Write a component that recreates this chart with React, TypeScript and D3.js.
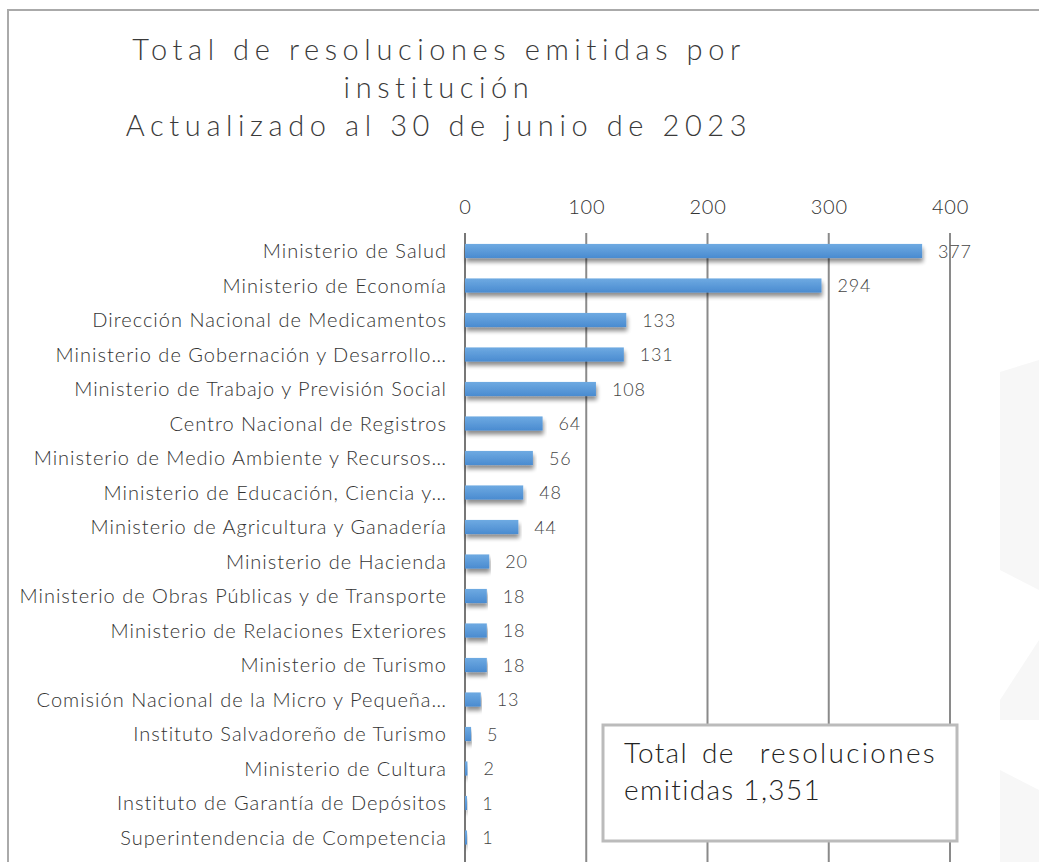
import React from 'react';
import * as d3 from 'd3';

// Institutions, top to bottom
const institutions = [
  'Ministerio de Salud',
  'Ministerio de Economía',
  'Dirección Nacional de Medicamentos',
  'Ministerio de Gobernación y Desarrollo…',
  'Ministerio de Trabajo y Previsión Social',
  'Centro Nacional de Registros',
  'Ministerio de Medio Ambiente y Recursos…',
  'Ministerio de Educación, Ciencia y…',
  'Ministerio de Agricultura y Ganadería',
  'Ministerio de Hacienda',
  'Ministerio de Obras Públicas y de Transporte',
  'Ministerio de Relaciones Exteriores',
  'Ministerio de Turismo',
  'Comisión Nacional de la Micro y Pequeña…',
  'Instituto Salvadoreño de Turismo',
  'Ministerio de Cultura',
  'Instituto de Garantía de Depósitos',
  'Superintendencia de Competencia',
];

const resoluciones = [377, 294, 133, 131, 108, 64, 56, 48, 44, 20, 18, 18, 18, 13, 5, 2, 1, 1];

const xTicks = [0, 100, 200, 300, 400];

const titleLines = [
  'Total de resoluciones emitidas por',
  'institución',
  'Actualizado al 30 de junio de 2023',
];

const totalWords = ['Total', 'de', 'resoluciones'];
const totalLine2 = 'emitidas 1,351';

const FONT = 'Lato, "Open Sans", sans-serif';

const App = () => {
  const width = 1039;
  const height = 862;

  const x = d3.scaleLinear().domain([0, 400]).range([465, 950]);
  const y = d3.scaleBand<string>()
    .domain(institutions)
    .range([233.75, 854.75])
    .paddingInner(0.59)
    .paddingOuter(0.295);

  const rows = institutions.map((name, i) => ({ name, value: resoluciones[i] }));

  return (
    <svg
      width={width}
      height={height}
      style={{ position: 'absolute', left: 0, top: 0, background: '#fff' }}
      fontFamily={FONT}
    >
      <defs>
        <linearGradient id="barFill" x1="0" y1="0" x2="0" y2="1">
          <stop offset="0%" stopColor="#6eaae2" />
          <stop offset="100%" stopColor="#4a8bd0" />
        </linearGradient>
        <filter id="barShadow" x="-5%" y="-40%" width="110%" height="200%">
          <feGaussianBlur in="SourceAlpha" stdDeviation="2" />
          <feOffset dx="1" dy="4" result="off" />
          <feComponentTransfer>
            <feFuncA type="linear" slope="0.45" />
          </feComponentTransfer>
          <feMerge>
            <feMergeNode />
            <feMergeNode in="SourceGraphic" />
          </feMerge>
        </filter>
      </defs>

      {/* faint watermark on the right */}
      <g fill="#f7f7f7">
        <path d="M1000,372 L1039,360 L1039,590 L1000,570 Z" />
        <path d="M1000,700 L1039,640 L1039,720 L1000,720 Z" />
        <path d="M1000,770 L1039,790 L1039,862 L1000,862 Z" />
      </g>

      {/* frame */}
      <line x1={7} x2={1039} y1={10} y2={10} stroke="#aaa" strokeWidth={2} />
      <line x1={8} x2={8} y1={10} y2={862} stroke="#aaa" strokeWidth={2} />

      {/* title */}
      <g fill="#3a3a3a" fontSize={29} fontWeight={300} letterSpacing={5.6} textAnchor="middle">
        {titleLines.map((t, i) => (
          <text key={i} x={439} y={60 + i * 38}>{t}</text>
        ))}
      </g>

      {/* grid + top axis */}
      {xTicks.map(t => (
        <g key={t}>
          <line
            x1={x(t)} x2={x(t)} y1={233} y2={height}
            stroke={t === 0 ? '#777' : '#8a8a8a'}
            strokeWidth={2}
          />
          <text x={x(t) + 0.5} y={214} textAnchor="middle" fontSize={20} fontWeight={300} letterSpacing={0.8} fill="#333">
            {t}
          </text>
        </g>
      ))}

      {/* bars */}
      {rows.map(d => (
        <g key={d.name}>
          <rect
            x={x(0)}
            y={y(d.name)}
            width={Math.max(2, x(d.value) - x(0))}
            height={y.bandwidth()}
            fill="url(#barFill)"
            filter="url(#barShadow)"
          />
          <text
            x={447}
            y={(y(d.name) as number) + y.bandwidth() / 2}
            dy="0.35em"
            textAnchor="end"
            fontSize={20}
            fontWeight={300}
            letterSpacing={1}
            fill="#333"
          >
            {d.name}
          </text>
          <text
            x={x(d.value) + 16}
            y={(y(d.name) as number) + y.bandwidth() / 2}
            dy="0.38em"
            fontSize={18}
            fontWeight={300}
            letterSpacing={0.8}
            fill="#444"
          >
            {d.value}
          </text>
        </g>
      ))}

      {/* total box */}
      <rect x={603} y={725} width={354} height={116} fill="#fff" stroke="#bbb" strokeWidth={3} />
      <g fontSize={28} fontWeight={300} fill="#222" letterSpacing={1.3}>
        <text x={624} y={763}>{totalWords[0]}</text>
        <text x={702} y={763}>{totalWords[1]}</text>
        <text x={937} y={763} textAnchor="end" letterSpacing={2.3}>{totalWords[2]}</text>
        <text x={624} y={800}>{totalLine2}</text>
      </g>
    </svg>
  );
};

export default App;
